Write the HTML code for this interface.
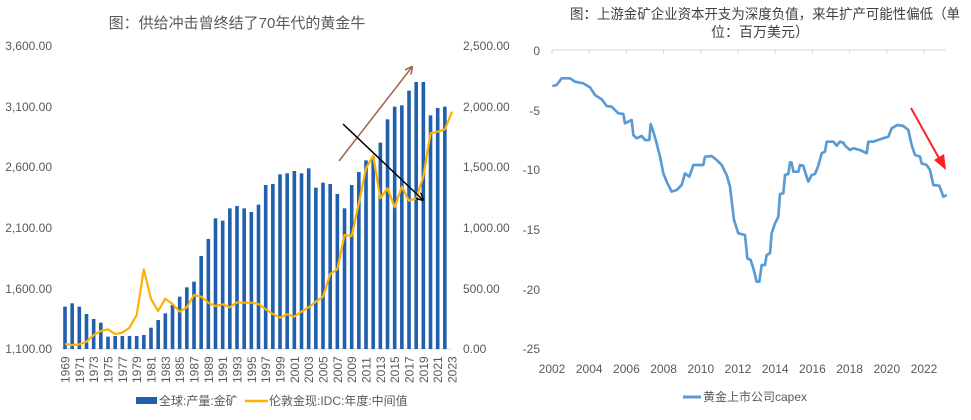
<!DOCTYPE html>
<html><head><meta charset="utf-8"><style>
html,body{margin:0;padding:0;background:#fff;}
svg{display:block;font-family:"Liberation Sans","Noto Sans CJK SC",sans-serif;}
</style></head><body>
<svg width="971" height="420" viewBox="0 0 971 420" xmlns="http://www.w3.org/2000/svg">
<defs>
<marker id="ab" markerWidth="8" markerHeight="8" refX="7" refY="4" orient="auto" markerUnits="userSpaceOnUse"><path d="M0,0 L8,4 L0,8" fill="none" stroke="#000" stroke-width="1.5"/></marker>
<marker id="ar" markerWidth="8" markerHeight="8" refX="7" refY="4" orient="auto" markerUnits="userSpaceOnUse"><path d="M0,0 L8,4 L0,8" fill="none" stroke="#a0614a" stroke-width="1.5"/></marker>
</defs>
<text x="237" y="28" font-size="15" fill="#595959" text-anchor="middle">图：供给冲击曾终结了70年代的黄金牛</text>
<g font-size="12" fill="#595959">
<text x="52" y="50" text-anchor="end">3,600.00</text>
<text x="52" y="111" text-anchor="end">3,100.00</text>
<text x="52" y="171" text-anchor="end">2,600.00</text>
<text x="52" y="232" text-anchor="end">2,100.00</text>
<text x="52" y="293" text-anchor="end">1,600.00</text>
<text x="52" y="353" text-anchor="end">1,100.00</text>
<text x="463" y="50">2,500.00</text>
<text x="463" y="111">2,000.00</text>
<text x="463" y="171">1,500.00</text>
<text x="463" y="232">1,000.00</text>
<text x="463" y="293">500.00</text>
<text x="463" y="353">0.00</text>
</g>
<line x1="62" y1="349" x2="452" y2="349" stroke="#d9d9d9"/>
<g id="bars" fill="#1f5fad"></g>
<g id="xl" font-size="12" fill="#595959"></g>
<polyline id="gl" fill="none" stroke="#ffb000" stroke-width="2.2" stroke-linejoin="round"/>
<line x1="339" y1="161" x2="412" y2="67" stroke="#a0614a" stroke-width="1.5" marker-end="url(#ar)"/>
<line x1="343" y1="124" x2="423" y2="200" stroke="#000" stroke-width="1.5" marker-end="url(#ab)"/>
<rect x="136" y="397" width="21" height="7" fill="#1f5fad"/>
<text x="159" y="405" font-size="12" fill="#595959">全球:产量:金矿</text>
<line x1="245" y1="401" x2="268" y2="401" stroke="#ffb000" stroke-width="2.5"/>
<text x="269" y="405" font-size="12" fill="#595959">伦敦金现:IDC:年度:中间值</text>

<text x="570" y="19" font-size="14" fill="#404040" textLength="390" lengthAdjust="spacingAndGlyphs">图：上游金矿企业资本开支为深度负值，来年扩产可能性偏低（单</text>
<text x="760" y="37" font-size="14" fill="#404040" text-anchor="middle">位：百万美元）</text>
<g font-size="12" fill="#595959" text-anchor="end">
<text x="540" y="55">0</text>
<text x="540" y="115">-5</text>
<text x="540" y="174">-10</text>
<text x="540" y="234">-15</text>
<text x="540" y="294">-20</text>
<text x="540" y="353">-25</text>
</g>
<line x1="552" y1="50" x2="946" y2="50" stroke="#d9d9d9"/>
<g id="rt" stroke="#d9d9d9"></g>
<g id="rl" font-size="12" fill="#595959" text-anchor="middle"></g>
<g transform="translate(490,0) scale(0.33333)">
<polyline fill="none" stroke="#5b9bd5" stroke-width="8" stroke-linejoin="round" points="187,258 200,255 215,235 240,235 255,245 280,250 300,262 315,285 335,298 350,318 365,320 385,340 400,342 405,370 425,360 430,405 440,415 455,408 465,420 478,420 482,372 490,395 500,430 510,470 520,520 530,545 545,575 560,570 575,555 585,520 598,530 610,495 640,495 645,470 665,468 680,480 695,495 710,525 720,560 732,660 745,700 765,705 772,775 782,780 790,805 800,845 808,845 815,795 825,795 830,765 840,760 845,700 855,670 865,650 870,582 880,580 885,525 895,522 900,487 905,488 910,515 925,515 930,495 940,497 945,515 955,545 965,525 975,522 985,497 995,460 1005,455 1010,425 1030,425 1040,437 1050,425 1060,428 1065,437 1080,450 1090,445 1110,450 1130,460 1135,425 1150,425 1170,418 1195,410 1205,385 1222,375 1240,378 1255,390 1265,435 1275,465 1290,470 1295,490 1310,495 1320,510 1330,555 1348,557 1360,590 1370,585"/>
</g>
<path d="M911,108 L940,160" stroke="#ff2020" stroke-width="2"/>
<path d="M934,160 L946,170 L944,154 Z" fill="#ff2020"/>
<line x1="683" y1="397" x2="701" y2="397" stroke="#5b9bd5" stroke-width="3"/>
<text x="703" y="401" font-size="12" fill="#595959">黄金上市公司capex</text>
</svg>
<script>
var ns="http://www.w3.org/2000/svg";
var bz=[920,910,920,942,957,968,1010,1008,1008,1008,1008,1005,983,960,940,915,890,862,845,768,717,655,662,625,618,625,636,614,555,552,523,520,513,520,505,563,548,552,582,625,555,516,481,470,428,358,320,316,272,246,246,346,324,320];
var lz=[1032,1035,1033,1025,1005,993,988,1002,998,983,945,808,897,933,896,912,935,922,885,890,908,918,913,922,907,908,908,912,928,942,953,943,950,935,922,905,890,822,808,705,708,610,505,467,595,565,622,560,602,595,530,400,395,388,335];
var bars=document.getElementById("bars"),xl=document.getElementById("xl");
var pts=[];
for(var i=0;i<55;i++){
 var cx=65+i*7.167;
 if(i<bz.length){var r=document.createElementNS(ns,"rect");var t=bz[i]/3;
 r.setAttribute("x",cx-1.8);r.setAttribute("y",t);r.setAttribute("width",3.6);r.setAttribute("height",349-t);bars.appendChild(r);}
 pts.push(cx.toFixed(1)+","+(lz[i]/3).toFixed(1));
 if(i%2==0){var tx=document.createElementNS(ns,"text");tx.textContent=1969+i;
 tx.setAttribute("transform","translate("+(cx+4.5)+",383) rotate(-90)");xl.appendChild(tx);}
}
document.getElementById("gl").setAttribute("points",pts.join(" "));
var rt=document.getElementById("rt"),rl=document.getElementById("rl");
for(var j=0;j<=10;j++){var x=552+j*37.2;
 var l=document.createElementNS(ns,"line");l.setAttribute("x1",x);l.setAttribute("x2",x);l.setAttribute("y1",50);l.setAttribute("y2",54);rt.appendChild(l);
 var t2=document.createElementNS(ns,"text");t2.setAttribute("x",x);t2.setAttribute("y",373);t2.textContent=2002+2*j;rl.appendChild(t2);}
</script>
</body></html>
